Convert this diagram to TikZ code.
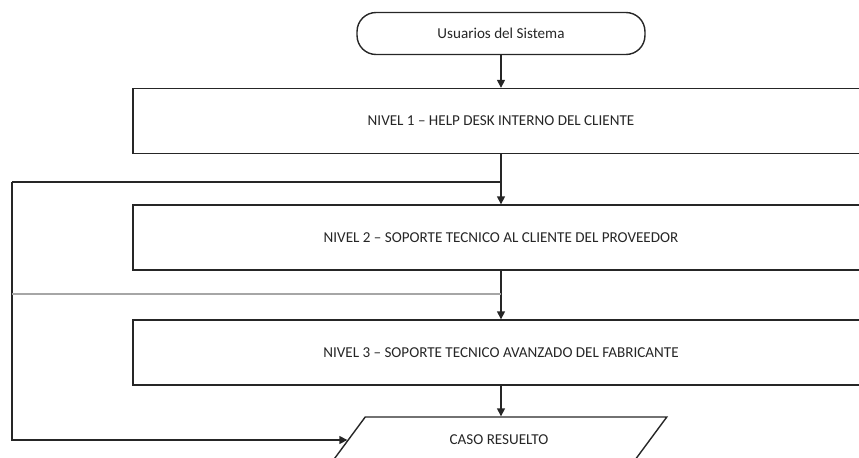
\documentclass[tikz,border=0pt]{standalone}
\usepackage{fontspec}
\setmainfont{Carlito}
\usetikzlibrary{arrows.meta,shapes}

\begin{document}
\begin{tikzpicture}[x=0.02cm,y=-0.02cm,->,>={Triangle[length=4.5pt,width=4.5pt]},line width=0.8pt,draw=black!85,
                    nivel/.style={shape=rectangle,draw=black!85,minimum width=14.72cm,minimum height=1.3cm},
                    txt/.style={font=\fontsize{8.6}{10}\selectfont,text=black!85}]
                \useasboundingbox (0,0) rectangle (859,457);
                \clip (0,0) rectangle (859,457);
                \node[shape=rectangle,rounded corners=0.38cm,draw=black!85,minimum width=5.76cm,minimum height=0.84cm,txt](usr)at(501, 33.5){Usuarios del Sistema};
                \node[nivel,txt](n1)at(501, 121){NIVEL 1 -- HELP DESK INTERNO DEL CLIENTE};
                \node[nivel,txt](n2)at(501, 237.5){NIVEL 2 -- SOPORTE TECNICO AL CLIENTE DEL PROVEEDOR};
                \node[nivel,txt](n3)at(501, 352.5){NIVEL 3 -- SOPORTE TECNICO AVANZADO DEL FABRICANTE};
                \node[shape=trapezium,trapezium left angle=57,trapezium right angle=123,trapezium stretches=true,draw=black!85,minimum width=6.76cm,minimum height=0.92cm,txt](caso)at(499, 440){CASO RESUELTO};
                \coordinate(j1)at(501, 182);
                \coordinate(j2)at(501, 294);
                \coordinate(lft)at(12, 182);
                \path(usr) edge (n1)
                (n1) edge (n2)
                (n2) edge (n3)
                (n3.south) edge (n3.south |- caso.north);
                \draw[-] (j1) -- (lft);
                \draw (lft) |- (caso.west);
                \draw[-,draw=black!35,line width=0.6pt] (j2) -- (lft |- j2);
            \end{tikzpicture}
\end{document}
